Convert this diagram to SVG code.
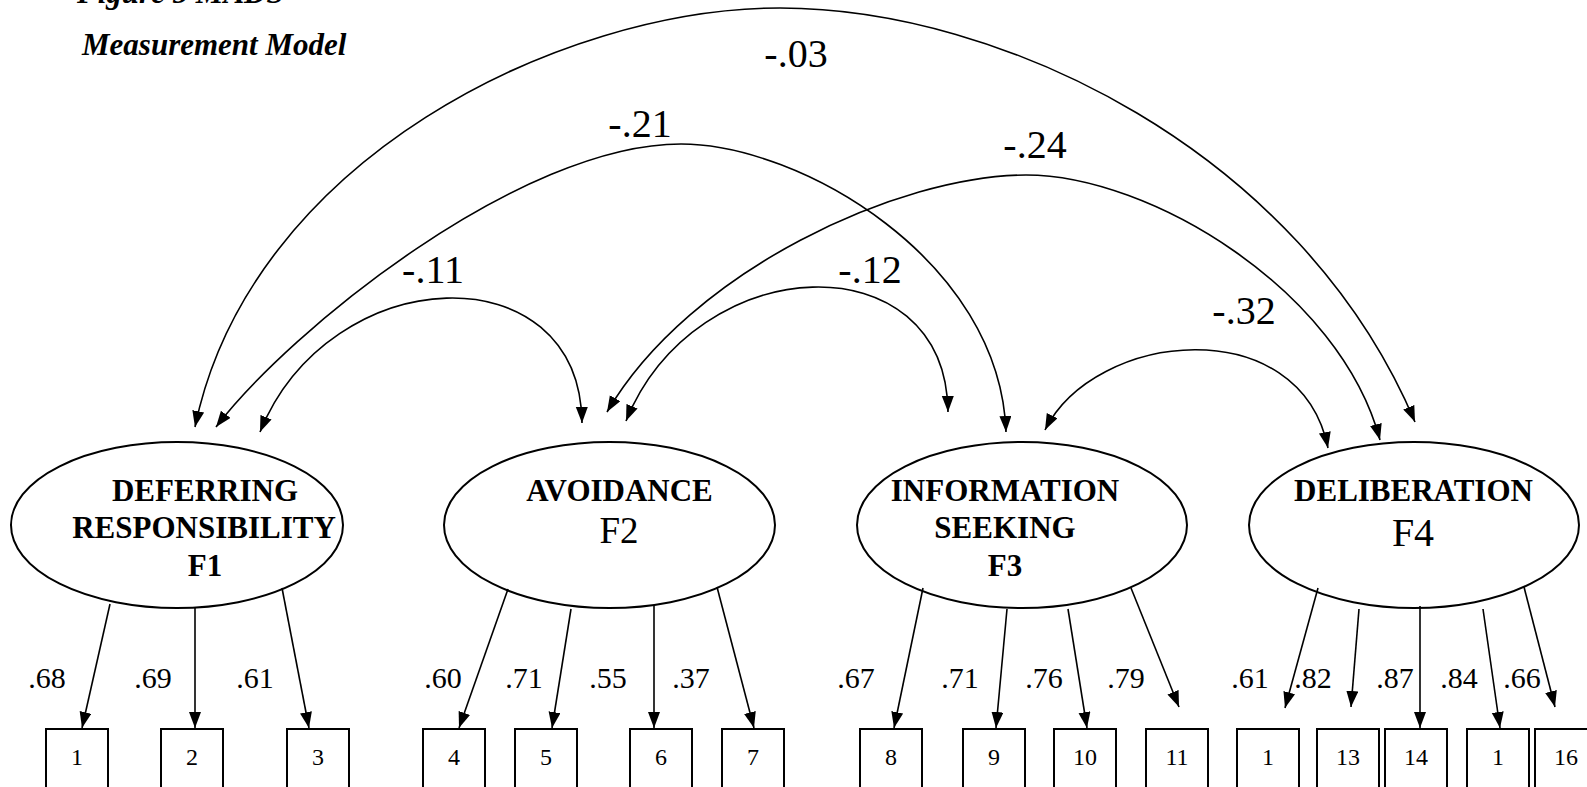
<svg xmlns="http://www.w3.org/2000/svg" width="1587" height="787" viewBox="0 0 1587 787">
  <style>
    .bg { fill: #ffffff; }
    .title { font-family: "Liberation Serif", "Times New Roman", serif; font-size: 31px; font-weight: bold; font-style: italic; fill: #000; }
    .factor { fill: none; stroke: #000; stroke-width: 2; }
    .fname { font-family: "Liberation Serif", "Times New Roman", serif; font-size: 31px; font-weight: bold; fill: #000; text-anchor: middle; }
    .fnum { font-family: "Liberation Serif", "Times New Roman", serif; fill: #000; text-anchor: middle; }
    .item { fill: #fff; stroke: #000; stroke-width: 2; }
    .itemtxt { font-family: "Liberation Serif", "Times New Roman", serif; font-size: 24px; fill: #000; text-anchor: middle; }
    .corr { font-family: "Liberation Serif", "Times New Roman", serif; font-size: 40px; fill: #000; text-anchor: middle; }
    .load { font-family: "Liberation Serif", "Times New Roman", serif; font-size: 30px; fill: #000; text-anchor: middle; }
    .path1 { fill: none; stroke: #000; stroke-width: 1.6; marker-end: url(#head); }
    .path2 { fill: none; stroke: #000; stroke-width: 1.6; marker-start: url(#head); marker-end: url(#head); }
  </style>
  <defs>
    <marker id="head" markerUnits="userSpaceOnUse" markerWidth="17" markerHeight="13" refX="16" refY="6" orient="auto-start-reverse">
      <path d="M0,0 L16,6 L0,12 z" fill="#000"/>
    </marker>
  </defs>

  <rect class="bg" x="0" y="0" width="1587" height="787"/>

  <!-- heading -->
  <text class="title" x="77" y="2.5">Figure 5 MADS</text>
  <text class="title" x="82" y="55">Measurement Model</text>

  <!-- factor covariances and loadings -->
  <g id="connectors">
    <path class="path2" d="M260,432 C330,260 580,250 582,423"/>
    <path class="path2" d="M626,421 C696,249 946,239 948,412"/>
    <path class="path2" d="M1045,430 C1095,330 1300,310 1328,448"/>
    <path class="path2" d="M216,427 C290,330 520,144 681,144 C800,144 1000,260 1006,432"/>
    <path class="path2" d="M607,412 C690,270 900,175 1026,175 C1150,175 1340,290 1380,440"/>
    <path class="path2" d="M195,427 C250,160 560,8 780,8 C1000,8 1300,150 1415,422"/>

    <line class="path1" x1="110" y1="604" x2="82" y2="728"/>
    <line class="path1" x1="195" y1="608" x2="195" y2="728"/>
    <line class="path1" x1="282" y1="588" x2="309" y2="728"/>

    <line class="path1" x1="508" y1="589" x2="459" y2="728"/>
    <line class="path1" x1="571" y1="609" x2="552" y2="728"/>
    <line class="path1" x1="654" y1="606" x2="654" y2="728"/>
    <line class="path1" x1="717" y1="587" x2="754" y2="728"/>

    <line class="path1" x1="923" y1="588" x2="894" y2="728"/>
    <line class="path1" x1="1007" y1="609" x2="996" y2="728"/>
    <line class="path1" x1="1068" y1="609" x2="1087" y2="728"/>
    <line class="path1" x1="1131" y1="588" x2="1179" y2="707"/>

    <line class="path1" x1="1318" y1="588" x2="1285" y2="708"/>
    <line class="path1" x1="1359" y1="609" x2="1351" y2="707"/>
    <line class="path1" x1="1420" y1="606" x2="1420" y2="728"/>
    <line class="path1" x1="1483" y1="609" x2="1500" y2="728"/>
    <line class="path1" x1="1524" y1="587" x2="1555" y2="707"/>
  </g>

  <!-- covariance values -->
  <g id="covariance-labels">
    <text class="corr" x="796" y="67">-.03</text>
    <text class="corr" x="640" y="137">-.21</text>
    <text class="corr" x="1035" y="158">-.24</text>
    <text class="corr" x="433" y="283">-.11</text>
    <text class="corr" x="870" y="283">-.12</text>
    <text class="corr" x="1244" y="324">-.32</text>
  </g>

  <!-- loading values -->
  <g id="loading-labels">
    <text class="load" x="47" y="688">.68</text>
    <text class="load" x="153" y="688">.69</text>
    <text class="load" x="255" y="688">.61</text>
    <text class="load" x="443" y="688">.60</text>
    <text class="load" x="524" y="688">.71</text>
    <text class="load" x="608" y="688">.55</text>
    <text class="load" x="691" y="688">.37</text>
    <text class="load" x="856" y="688">.67</text>
    <text class="load" x="960" y="688">.71</text>
    <text class="load" x="1044" y="688">.76</text>
    <text class="load" x="1126" y="688">.79</text>
    <text class="load" x="1250" y="688">.61</text>
    <text class="load" x="1313" y="688">.82</text>
    <text class="load" x="1395" y="688">.87</text>
    <text class="load" x="1459" y="688">.84</text>
    <text class="load" x="1522" y="688">.66</text>
  </g>

  <!-- latent factors -->
  <g id="F1">
    <ellipse class="factor" cx="177" cy="525" rx="166" ry="83"/>
    <text class="fname" x="205" y="501">DEFERRING</text>
    <text class="fname" x="204" y="538">RESPONSIBILITY</text>
    <text class="fname" x="205" y="576">F1</text>
  </g>
  <g id="F2">
    <ellipse class="factor" cx="609.5" cy="525" rx="165.5" ry="83"/>
    <text class="fname" x="619.5" y="501">AVOIDANCE</text>
    <text class="fnum" x="619" y="543" font-size="37">F2</text>
  </g>
  <g id="F3">
    <ellipse class="factor" cx="1022" cy="525" rx="165" ry="83"/>
    <text class="fname" x="1005" y="501">INFORMATION</text>
    <text class="fname" x="1005" y="538">SEEKING</text>
    <text class="fname" x="1005" y="576">F3</text>
  </g>
  <g id="F4">
    <ellipse class="factor" cx="1414" cy="525" rx="165" ry="83"/>
    <text class="fname" x="1413.5" y="501">DELIBERATION</text>
    <text class="fnum" x="1413" y="546" font-size="40">F4</text>
  </g>

  <!-- observed items -->
  <g id="item1"><rect class="item" x="46" y="729" width="62" height="70"/><text class="itemtxt" x="77" y="765">1</text></g>
  <g id="item2"><rect class="item" x="161" y="729" width="62" height="70"/><text class="itemtxt" x="192" y="765">2</text></g>
  <g id="item3"><rect class="item" x="287" y="729" width="62" height="70"/><text class="itemtxt" x="318" y="765">3</text></g>
  <g id="item4"><rect class="item" x="423" y="729" width="62" height="70"/><text class="itemtxt" x="454" y="765">4</text></g>
  <g id="item5"><rect class="item" x="515" y="729" width="62" height="70"/><text class="itemtxt" x="546" y="765">5</text></g>
  <g id="item6"><rect class="item" x="630" y="729" width="62" height="70"/><text class="itemtxt" x="661" y="765">6</text></g>
  <g id="item7"><rect class="item" x="722" y="729" width="62" height="70"/><text class="itemtxt" x="753" y="765">7</text></g>
  <g id="item8"><rect class="item" x="860" y="729" width="62" height="70"/><text class="itemtxt" x="891" y="765">8</text></g>
  <g id="item9"><rect class="item" x="963" y="729" width="62" height="70"/><text class="itemtxt" x="994" y="765">9</text></g>
  <g id="item10"><rect class="item" x="1054" y="729" width="62" height="70"/><text class="itemtxt" x="1085" y="765">10</text></g>
  <g id="item11"><rect class="item" x="1146" y="729" width="62" height="70"/><text class="itemtxt" x="1177" y="765">11</text></g>
  <g id="item12"><rect class="item" x="1237" y="729" width="62" height="70"/><text class="itemtxt" x="1268" y="765">1</text></g>
  <g id="item13"><rect class="item" x="1317" y="729" width="62" height="70"/><text class="itemtxt" x="1348" y="765">13</text></g>
  <g id="item14"><rect class="item" x="1385" y="729" width="62" height="70"/><text class="itemtxt" x="1416" y="765">14</text></g>
  <g id="item15"><rect class="item" x="1467" y="729" width="62" height="70"/><text class="itemtxt" x="1498" y="765">1</text></g>
  <g id="item16"><rect class="item" x="1535" y="729" width="62" height="70"/><text class="itemtxt" x="1566" y="765">16</text></g>
</svg>
